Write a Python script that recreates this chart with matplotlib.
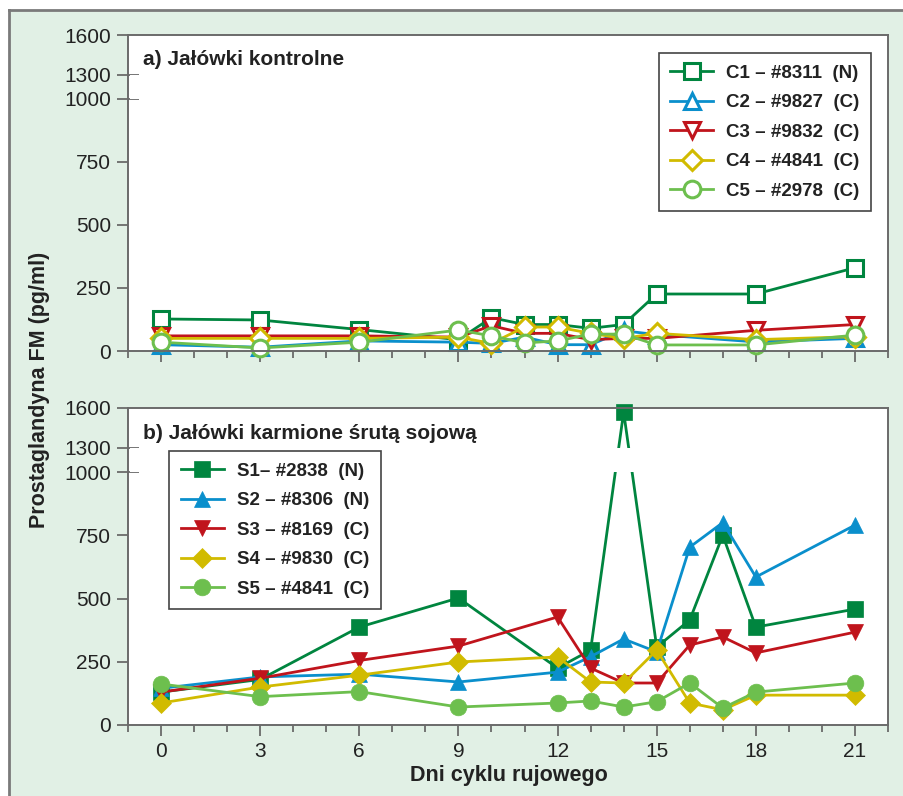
#!/usr/bin/env python3
"""PGFM profiles in control and soybean-fed heifers (two panels, broken y axis)."""

import numpy as np
import matplotlib
matplotlib.use('Agg')
import matplotlib.pyplot as plt
from matplotlib.ticker import FixedLocator, MultipleLocator, FuncFormatter
from matplotlib.lines import Line2D
from matplotlib.patches import Rectangle

plt.rcParams['font.family'] = ['Liberation Sans', 'DejaVu Sans']

# ---- data -------------------------------------------------------------
days_a = [0, 3, 6, 9, 10, 11, 12, 13, 14, 15, 18, 21]
c1 = [127, 123, 85, 45, 132, 105, 105, 90, 105, 226, 226, 330]
c2 = [25, 15, 40, 35, 30, 55, 25, 25, 80, 65, 36, 50]
c3 = [60, 60, 60, 55, 100, 70, 70, 45, 50, 50, 82, 105]
c4 = [50, 50, 50, 55, 30, 95, 95, 70, 50, 70, 45, 57]
c5 = [35, 12, 35, 83, 60, 32, 40, 67, 67, 24, 24, 63]
labels_a = ['C1 \u2013 #8311  (N)', 'C2 \u2013 #9827  (C)', 'C3 \u2013 #9832  (C)',
            'C4 \u2013 #4841  (C)', 'C5 \u2013 #2978  (C)']

days_b = [0, 3, 6, 9, 12, 13, 14, 15, 16, 17, 18, 21]
s1 = [130, 180, 387, 502, 225, 296, 1570, 308, 415, 750, 387, 458]
s2 = [145, 190, 201, 170, 209, 270, 340, 289, 703, 800, 585, 790]
s3 = [130, 185, 255, 312, 427, 225, 166, 166, 316, 348, 285, 367]
s4 = [87, 150, 197, 249, 269, 170, 166, 296, 87, 60, 118, 118]
s5 = [162, 112, 132, 71, 87, 95, 71, 92, 166, 67, 130, 166]
labels_b = ['S1\u2013 #2838  (N)', 'S2 \u2013 #8306  (N)', 'S3 \u2013 #8169  (C)',
            'S4 \u2013 #9830  (C)', 'S5 \u2013 #4841  (C)']

y_major = [0, 250, 500, 750, 1600]
y_break = [1000, 1300]
x_ticks = [0, 3, 6, 9, 12, 15, 18, 21]

colors = ['#00853f', '#0a8fcc', '#c0141c', '#d1bb00', '#6dbf4e']
markers = ['s', '^', 'v', 'D', 'o']
msizes = [11, 12, 12, 10, 12]

BG = '#e1f0e5'
SPINE = '#6a6a6a'

# piecewise y scale: 0-1000 linear, 1000-1600 compressed
_in = [-1000, 0, 1000, 1300, 1600, 3000]
_out = [-1000, 0, 1000, 1095, 1253, 1983]


def fwd(y):
    return np.interp(y, _in, _out)


def inv(y):
    return np.interp(y, _out, _in)


def style_axes(ax, show_xlabels):
    ax.set_yscale('function', functions=(fwd, inv))
    ax.set_ylim(0, 1600)
    ax.set_xlim(-1, 22)
    ax.yaxis.set_major_locator(FixedLocator(y_major))
    ax.yaxis.set_minor_locator(FixedLocator(y_break))
    ax.yaxis.set_minor_formatter(FuncFormatter(lambda v, p: f'{v:.0f}'))
    ax.xaxis.set_major_locator(FixedLocator(x_ticks))
    ax.xaxis.set_minor_locator(MultipleLocator(1))
    ax.tick_params(axis='y', which='major', direction='out', length=8, width=1.3,
                   color=SPINE, labelsize=15, labelcolor='#222222', pad=4)
    ax.tick_params(axis='y', which='minor', direction='inout', length=16, width=1.3,
                   color=SPINE, labelsize=15, labelcolor='#222222', pad=4)
    ax.tick_params(axis='x', which='major', direction='out', length=8, width=1.3,
                   color=SPINE, labelsize=15, labelcolor='#222222', pad=4,
                   labelbottom=show_xlabels)
    ax.tick_params(axis='x', which='minor', direction='out', length=5, width=1.3,
                   color=SPINE)
    for sp in ax.spines.values():
        sp.set_color(SPINE)
        sp.set_linewidth(1.4)
        sp.set_zorder(4)
    # white gap across the axis break
    ax.axhspan(1000, 1300, xmin=0.003, xmax=0.997, color='white', lw=0, zorder=2.5)


fig = plt.figure(figsize=(9.04, 7.96), dpi=100)
fig.patch.set_facecolor('white')
fig.patches.append(Rectangle((9 / 904, 0), 1, (796 - 10) / 796, transform=fig.transFigure,
                             facecolor=BG, edgecolor='none', zorder=-10))
fig.lines.append(Line2D([9 / 904, 9 / 904], [0, (796 - 10) / 796], transform=fig.transFigure,
                        color='#7a7a7a', lw=2, zorder=-5))
fig.lines.append(Line2D([9 / 904, 1], [(796 - 10) / 796] * 2, transform=fig.transFigure,
                        color='#7a7a7a', lw=2, zorder=-5))

ax_a = fig.add_axes([128 / 904, (796 - 351) / 796, 760 / 904, 316 / 796])
ax_b = fig.add_axes([128 / 904, (796 - 725) / 796, 760 / 904, 317 / 796])

# panel a: open markers
for vals, col, mk, ms, lab in zip([c1, c2, c3, c4, c5], colors, markers, msizes, labels_a):
    ax_a.plot(days_a, vals, color=col, lw=2, marker=mk, ms=ms, mfc='white', mec=col,
              mew=2.2, label=lab, clip_on=False)

# panel b: filled markers
for vals, col, mk, ms, lab in zip([s1, s2, s3, s4, s5], colors, markers, msizes, labels_b):
    ax_b.plot(days_b, vals, color=col, lw=2, marker=mk, ms=ms, mfc=col, mec=col,
              mew=0.5, label=lab, clip_on=False)

style_axes(ax_a, False)
style_axes(ax_b, True)

ax_a.text(0.02, 0.924, 'a) Jałówki kontrolne', transform=ax_a.transAxes,
          fontsize=15, fontweight='bold', color='#222222', va='center', ha='left')
ax_b.text(0.02, 0.921, 'b) Jałówki karmione śrutą sojową', transform=ax_b.transAxes,
          fontsize=15, fontweight='bold', color='#222222', va='center', ha='left')

leg_kw = dict(prop={'weight': 'bold', 'size': 13.5}, handlelength=2.3, handletextpad=0.7,
              labelspacing=0.66, borderpad=0.62, borderaxespad=0, fancybox=False,
              framealpha=1, edgecolor='#444444', labelcolor='#222222')
leg_a = ax_a.legend(loc='upper right', bbox_to_anchor=(0.978, 0.943), **leg_kw)
leg_b = ax_b.legend(loc='upper left', bbox_to_anchor=(0.054, 0.864), **leg_kw)
for leg in (leg_a, leg_b):
    leg.get_frame().set_linewidth(1.2)
    leg.set_zorder(5)

fig.text(40 / 904, (796 - 390) / 796, 'Prostaglandyna FM (pg/ml)', rotation=90,
         fontsize=15.5, fontweight='bold', color='#222222', ha='center', va='center')
fig.text(509 / 904, (796 - 775) / 796, 'Dni cyklu rujowego',
         fontsize=15.5, fontweight='bold', color='#222222', ha='center', va='center')

fig.savefig('out.png', dpi=100)
